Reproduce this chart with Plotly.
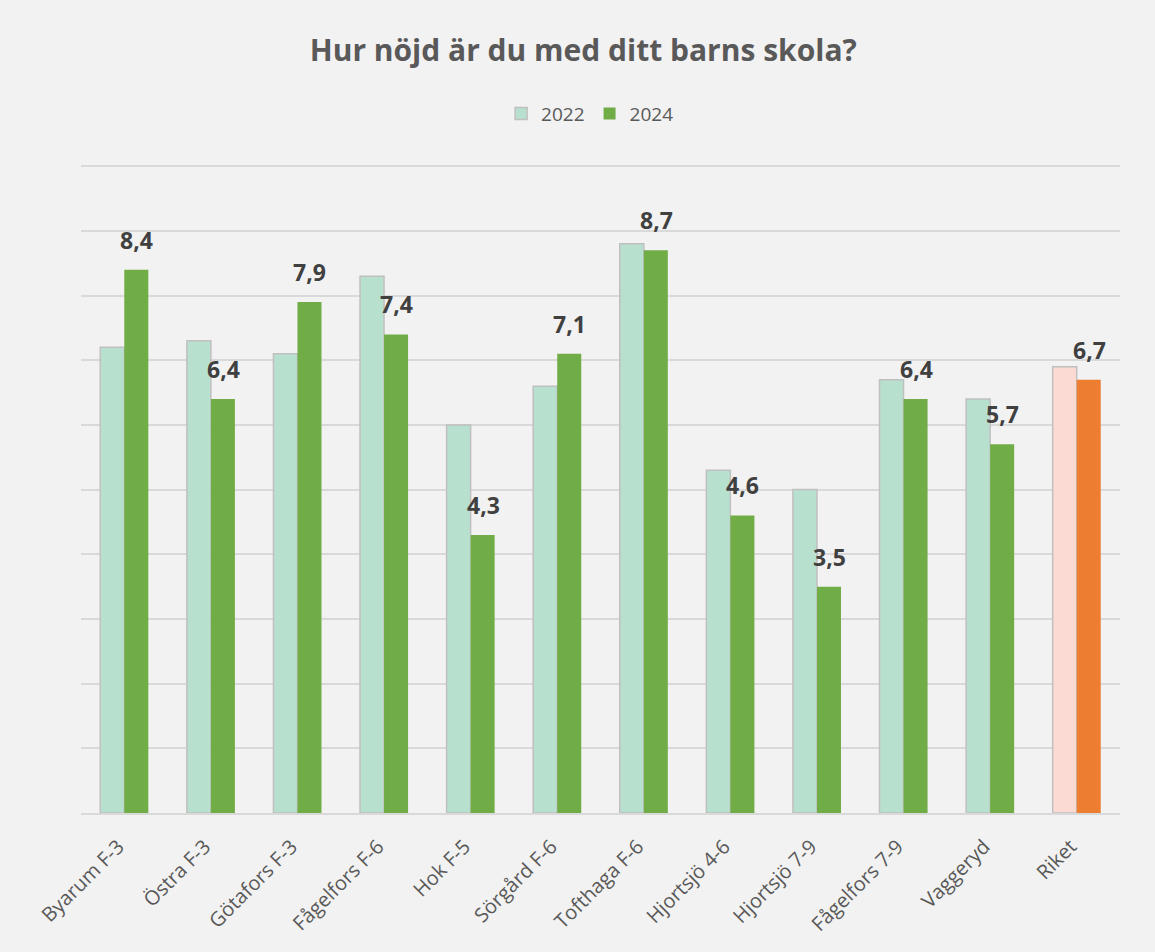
import plotly.graph_objects as go

categories = ["Byarum F-3", "Östra F-3", "Götafors F-3", "Fågelfors F-6", "Hok F-5",
              "Sörgård F-6", "Tofthaga F-6", "Hjortsjö 4-6", "Hjortsjö 7-9",
              "Fågelfors 7-9", "Vaggeryd", "Riket"]
values_2022 = [7.2, 7.3, 7.1, 8.3, 6.0, 6.6, 8.8, 5.3, 5.0, 6.7, 6.4, 6.9]
values_2024 = [8.4, 6.4, 7.9, 7.4, 4.3, 7.1, 8.7, 4.6, 3.5, 6.4, 5.7, 6.7]

light_green = "#b8e0ce"
green = "#70ad47"
light_orange = "#fbdad3"
orange = "#ed7d31"

colors_2022 = [light_green] * (len(categories) - 1) + [light_orange]
colors_2024 = [green] * (len(categories) - 1) + [orange]
labels_2024 = [f"{v:.1f}".replace(".", ",") for v in values_2024]

fig = go.Figure()
fig.add_trace(go.Bar(
    name="2022", x=categories, y=values_2022,
    marker=dict(color=colors_2022, line=dict(color="#c0c0c0", width=1.5)),
    hoverinfo="skip",
))
fig.add_trace(go.Bar(
    name="2024", x=categories, y=values_2024,
    marker=dict(color=colors_2024, line=dict(width=0)),
    hoverinfo="skip",
))

# value labels above the 2024 bars
for cat, val, lab in zip(categories, values_2024, labels_2024):
    fig.add_annotation(
        x=cat, y=val, text=f"<b>{lab}</b>", showarrow=False,
        xanchor="center", yanchor="bottom", xshift=12.5, yshift=12,
        font=dict(family="Open Sans", size=23, color="#404040"),
    )

fig.update_layout(
    width=1155, height=952,
    paper_bgcolor="#f2f2f2", plot_bgcolor="#f2f2f2",
    margin=dict(l=81, r=35, t=163, b=139),
    barmode="group", bargap=0.445, bargroupgap=0,
    font=dict(family="Open Sans", color="#595959"),
    title=dict(text="<b>Hur nöjd är du med ditt barns skola?</b>",
               x=0.505, xanchor="center", y=0.947, yanchor="middle",
               font=dict(size=30, color="#595959")),
    legend=dict(orientation="h", x=0.49, xanchor="center", y=1.076, yanchor="middle",
                font=dict(size=19, color="#595959"), bgcolor="rgba(0,0,0,0)",
                traceorder="normal"),
)
fig.update_xaxes(
    tickangle=-45, tickfont=dict(size=20, color="#595959"),
    showline=True, linecolor="#d9d9d9", linewidth=2, ticks="",
    ticklabelstandoff=12, ticklabelshift=-6,
)
fig.update_yaxes(
    range=[0, 10.05], tickvals=list(range(0, 11)), showticklabels=False,
    showgrid=True, gridcolor="#d9d9d9", gridwidth=1.5, zeroline=False,
)

fig.write_html("out.html")
